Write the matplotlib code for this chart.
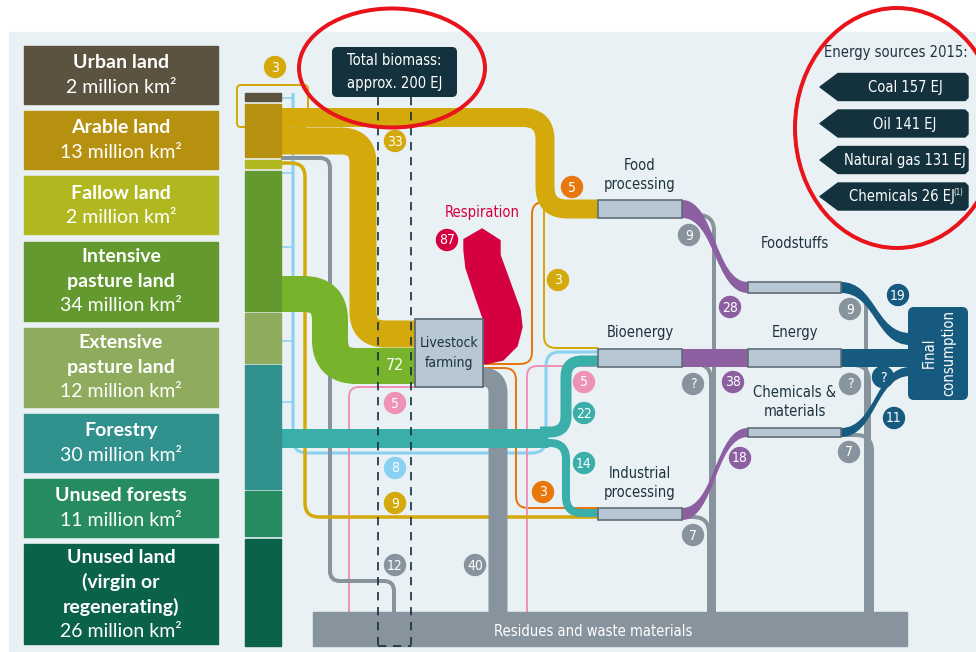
import numpy as np
import matplotlib
matplotlib.use('Agg')
import matplotlib.pyplot as plt
from matplotlib.font_manager import FontProperties, findfont, fontManager
from matplotlib.path import Path
from matplotlib.patches import PathPatch, Rectangle, FancyBboxPatch, Circle, Ellipse, Polygon

names = {f.name for f in fontManager.ttflist}
cond_file = findfont(FontProperties(family='DejaVu Sans', stretch='condensed'))
if 'Condensed' in cond_file:
    NK = dict(family='DejaVu Sans', fontstretch='condensed')
elif 'Liberation Sans' in names:
    NK = dict(family='Liberation Sans')
else:
    NK = dict(family='DejaVu Sans')
WIDE = 'Lato' if 'Lato' in names else 'DejaVu Sans'

# --- data -------------------------------------------------------------
land_names = ['Urban land', 'Arable land', 'Fallow land', 'Intensive\npasture land',
              'Extensive\npasture land', 'Forestry', 'Unused forests',
              'Unused land\n(virgin or\nregenerating)']
land_area = [2, 13, 2, 34, 12, 30, 11, 26]  # million km²
land_colors = ['#5b5340', '#b6910f', '#b1b81f', '#64992f', '#8fab5e', '#30918d', '#268c60', '#0b624b']

energy_sources = ['Coal', 'Oil', 'Natural gas', 'Chemicals']
energy_ej = [157, 141, 131, 26]

# flow values (EJ) as printed in the circles
flow_values = ['3', '33', '5', '8', '9', '12', '87', '40', '5', '3', '3', '5', '22', '14',
               '9', '?', '7', '28', '38', '18', '9', '?', '7', '19', '?', '11']
flow_kinds = ['y', 'y', 'p', 'l', 'y', 'g', 'r', 'g', 'o', 'y', 'o', 'p', 't', 't',
              'g', 'g', 'g', 'v', 'v', 'v', 'g', 'g', 'g', 'b', 'b', 'b']
livestock_in = 72
total_biomass = 200

stage_names = ['Food\nprocessing', 'Bioenergy', 'Industrial\nprocessing']
product_names = ['Foodstuffs', 'Energy', 'Chemicals &\nmaterials']

# --- colours ----------------------------------------------------------
BG = '#e9f1f4'
DARK = '#14323e'
TXT = '#1d3340'
YELLOW = '#d4a90b'
ORANGE = '#e8780e'
PINK = '#ef93b6'
LBLUE = '#88d1f1'
GRAY = '#87939d'
TEAL = '#3aaea9'
PURPLE = '#8c5fa1'
BLUE = '#175a80'
RED = '#d5003f'
GREEN = '#78b42b'
BOXF = '#b7c7d3'
BOXE = '#5f6d78'
kind_color = {'y': YELLOW, 'p': PINK, 'l': LBLUE, 'g': GRAY, 'r': RED, 'o': ORANGE,
              't': TEAL, 'v': PURPLE, 'b': BLUE}

PX = 0.72  # pixel -> points

fig = plt.figure(figsize=(9.76, 6.52), dpi=100)
fig.patch.set_facecolor('white')
ax = fig.add_axes([0, 0, 1, 1])
ax.set_xlim(0, 976)
ax.set_ylim(652, 0)
ax.axis('off')

ax.add_patch(Rectangle((9, 32), 967, 620, color=BG, zorder=0))


def rounded_path(pts, r):
    verts = [pts[0]]
    codes = [Path.MOVETO]
    n = len(pts)
    for i in range(1, n - 1):
        p0, p1, p2 = np.array(pts[i - 1], float), np.array(pts[i], float), np.array(pts[i + 1], float)
        d1 = p1 - p0
        d2 = p2 - p1
        l1 = np.hypot(*d1)
        l2 = np.hypot(*d2)
        rr = min(r, l1 if i == 1 else l1 / 2, l2 if i == n - 2 else l2 / 2)
        a = p1 - d1 / l1 * rr
        b = p1 + d2 / l2 * rr
        verts += [tuple(a), tuple(p1), tuple(b)]
        codes += [Path.LINETO, Path.CURVE3, Path.CURVE3]
    verts.append(pts[-1])
    codes.append(Path.LINETO)
    return Path(verts, codes)


def flow(pts, width, color, r=12, z=2):
    ax.add_patch(PathPatch(rounded_path(pts, r), fill=False, edgecolor=color,
                           lw=width * PX, capstyle='butt', joinstyle='round', zorder=z))


def ribbon(x0, a0, b0, x1, a1, b1, color, z=2):
    xm = (x0 + x1) / 2
    verts = [(x0, a0), (xm, a0), (xm, a1), (x1, a1), (x1, b1), (xm, b1), (xm, b0), (x0, b0), (x0, a0)]
    codes = [Path.MOVETO, Path.CURVE4, Path.CURVE4, Path.CURVE4, Path.LINETO,
             Path.CURVE4, Path.CURVE4, Path.CURVE4, Path.CLOSEPOLY]
    ax.add_patch(PathPatch(Path(verts, codes), facecolor=color, edgecolor='none', zorder=z))


def label(x, y, s, color, size=10):
    ax.add_patch(Circle((x, y), 10.5, color=color, zorder=6))
    ax.text(x, y + 0.5, s, color='white', fontsize=size, ha='center', va='center',
            zorder=7, **NK)


# --- left land boxes --------------------------------------------------
y = 46
for name, area, col in zip(land_names, land_area, land_colors):
    lines = name.split('\n') + [f'{area} million km²']
    h = 58 if len(lines) == 2 else (79 if len(lines) == 3 else 100)
    ax.add_patch(Rectangle((24, y), 194, h, color=col, zorder=1))
    cy = y + h / 2
    for k, ln in enumerate(lines):
        ly = cy + (k - (len(lines) - 1) / 2) * 24.5
        ax.text(121, ly, ln, color='white', fontsize=14, family=WIDE,
                fontweight='bold' if k < len(lines) - 1 else 'normal',
                ha='center', va='center', zorder=2)
    y += h + 7.2

# urban outline (3 EJ)
ax.add_patch(FancyBboxPatch((237, 85), 71, 42, boxstyle='round,pad=0,rounding_size=4',
                            fill=False, edgecolor=YELLOW, lw=2 * PX, zorder=1))

# --- thin flows --------------------------------------------------------
flow([(293, 93), (293, 453), (546, 453), (546, 352), (598, 352)], 3, LBLUE, r=14)
for ty in [98, 173, 247, 341, 402]:
    ax.plot([281, 293], [ty, ty], color=LBLUE, lw=1.5 * PX, zorder=2)
flow([(544, 205), (544, 348), (598, 348)], 2, YELLOW, r=12)
flow([(470, 364), (532, 364), (532, 202), (598, 202)], 2, ORANGE, r=12)
flow([(470, 368), (516, 368), (516, 508), (598, 508)], 2, ORANGE, r=12)
flow([(415, 387), (349, 387), (349, 612)], 2, PINK, r=10)
flow([(527, 612), (527, 366), (598, 366)], 2, PINK, r=10)
flow([(281, 158), (330, 158), (330, 581), (394, 581), (394, 612)], 4, GRAY, r=10)
flow([(281, 163), (305, 163), (305, 517), (598, 517)], 3.5, YELLOW, r=14)

# gray residue lines from processing / products
flow([(682, 215), (714, 215), (714, 612)], 4, GRAY, r=16)
flow([(682, 364), (711, 364), (711, 612)], 4, GRAY, r=16)
flow([(682, 517), (709, 517), (709, 612)], 4, GRAY, r=16)
flow([(841, 291), (866, 291), (866, 612)], 4, GRAY, r=16)
flow([(841, 365), (869, 365), (869, 612)], 4, GRAY, r=16)
flow([(841, 435), (872, 435), (872, 612)], 4, GRAY, r=16)

# --- thick flows -------------------------------------------------------
flow([(281, 117.5), (545, 117.5), (545, 209), (598, 209)], 19, YELLOW, r=22, z=3)
flow([(281, 141), (363, 141), (363, 334), (420, 334)], 27, YELLOW, r=22, z=3)
flow([(281, 294), (330, 294), (330, 366), (420, 366)], 36, GREEN, r=26, z=3)
flow([(470, 377), (498, 377), (498, 612)], 19, GRAY, r=16, z=2)
flow([(281, 437.5), (548, 437.5)], 19, TEAL, z=3)
flow([(540, 432), (566, 432), (566, 361), (598, 361)], 11, TEAL, r=16, z=3)
flow([(540, 443), (566, 443), (566, 513), (598, 513)], 8, TEAL, r=16, z=3)

# respiration arrow
resp = [(482, 229), (500, 240.5), (500, 255), (520, 310), (522, 327), (517, 346), (503, 360),
        (487, 363.5), (483, 363.5), (483, 318), (476, 298), (466, 268), (464, 250), (464, 239.5)]
ax.add_patch(Polygon(resp, closed=True, color=RED, zorder=3))

# purple and blue ribbons
ribbon(682, 200, 218, 748, 282, 293, PURPLE)
ribbon(682, 349, 367, 748, 349, 367, PURPLE)
ribbon(682, 508, 520, 748, 428, 437, PURPLE)
ribbon(841, 282, 293, 910, 333, 345, BLUE)
ribbon(841, 349, 367, 910, 349, 367, BLUE)
ribbon(841, 428, 437, 910, 367, 376, BLUE)

# --- stacked land column ---------------------------------------------
top, bottom, gap = 93, 646, 2.5
scale = (bottom - top - gap * (len(land_area) - 1)) / sum(land_area)
y = top
for area, col in zip(land_area, land_colors):
    ax.add_patch(Rectangle((245, y), 36, area * scale, color=col, zorder=4))
    y += area * scale + gap

# --- boxes -------------------------------------------------------------
ax.add_patch(Rectangle((415, 319), 68, 68, facecolor=BOXF, edgecolor=BOXE, lw=1.3, zorder=5))
ax.text(449, 353, 'Livestock\nfarming', fontsize=10, color=TXT,
        ha='center', va='center', linespacing=1.5, zorder=6, **NK)

stage_y = [(200, 218), (349, 367), (508, 520)]
stage_text_y = [175, 333, 483]
for (a, b), nm, ty in zip(stage_y, stage_names, stage_text_y):
    ax.add_patch(Rectangle((598, a), 84, b - a, facecolor=BOXF, edgecolor=BOXE, lw=1.2, zorder=5))
    ax.text(640, ty, nm, fontsize=10.5, color=TXT, ha='center', va='center',
            linespacing=1.4, zorder=6, **NK)

prod_y = [(282, 293), (349, 367), (428, 437)]
prod_text_y = [244, 333, 402]
for (a, b), nm, ty in zip(prod_y, product_names, prod_text_y):
    ax.add_patch(Rectangle((748, a), 93, b - a, facecolor=BOXF, edgecolor=BOXE, lw=1.2, zorder=5))
    ax.text(795, ty, nm, fontsize=10.5, color=TXT, ha='center', va='center',
            linespacing=1.4, zorder=6, **NK)

ax.add_patch(FancyBboxPatch((908, 307), 60, 93, boxstyle='round,pad=0,rounding_size=6',
                            facecolor=BLUE, edgecolor='none', zorder=5))
ax.text(939, 353, 'Final\nconsumption', rotation=90, fontsize=10.5,
        color='white', ha='center', va='center', linespacing=1.35, zorder=6, **NK)

# residues bar
ax.add_patch(Rectangle((313, 612), 594, 34, color=GRAY, zorder=5))
ax.text(593, 631, 'Residues and waste materials', fontsize=10.5,
        color='white', ha='center', va='center', zorder=6, **NK)

# respiration label
ax.text(482, 213, 'Respiration', fontsize=10.5, color=RED,
        ha='center', va='center', zorder=6, **NK)
ax.text(395, 366, str(livestock_in), fontsize=11.5, color='white',
        ha='center', va='center', zorder=7, **NK)

# dashed total biomass column
for dx in (378, 411):
    ax.plot([dx, dx], [97, 646], color=DARK, lw=1.2, ls=(0, (5, 4)), zorder=6)
ax.plot([378, 411], [646, 646], color=DARK, lw=1.2, ls=(0, (5, 4)), zorder=6)
ax.add_patch(FancyBboxPatch((332, 47), 125, 50, boxstyle='round,pad=0,rounding_size=5',
                            facecolor=DARK, edgecolor='none', zorder=7))
ax.text(394.5, 72, f'Total biomass:\napprox. {total_biomass} EJ', fontsize=10.5,
        color='white', ha='center', va='center', linespacing=1.6, zorder=8, **NK)

# --- value circles -----------------------------------------------------
label_pos = [(275, 67), (395, 141), (395, 403), (395, 468), (395, 503), (395, 565),
             (447, 240), (475, 565), (572, 187), (558, 280), (543, 492), (584, 382),
             (584, 413), (584, 463), (689, 235), (693, 384), (693, 535), (730, 307),
             (733, 382), (740, 458), (850, 309), (850, 384), (849, 452), (898, 295),
             (883, 377), (894, 418)]
for (lx, ly), v, k in zip(label_pos, flow_values, flow_kinds):
    label(lx, ly, v, kind_color[k])

# --- energy sources ----------------------------------------------------
ax.text(968, 53, 'Energy sources 2015:', fontsize=10.5, color=TXT,
        ha='right', va='center', zorder=6, **NK)
for i, (src, ej) in enumerate(zip(energy_sources, energy_ej)):
    yc = 87 + i * 36.5
    tag = [(820, yc), (838, yc - 13.5), (965, yc - 13.5), (968, yc - 10.5),
           (968, yc + 10.5), (965, yc + 13.5), (838, yc + 13.5)]
    ax.add_patch(Polygon(tag, closed=True, facecolor=DARK, edgecolor=DARK, lw=1,
                         joinstyle='round', zorder=5))
    if src == 'Chemicals':
        ax.text(902, yc + 0.5, f'{src} {ej} EJ', fontsize=10.5, color='white',
                ha='center', va='center', zorder=6, **NK)
        ax.text(958, yc - 4, '(1)', fontsize=5.5, color='white',
                ha='center', va='center', zorder=6, **NK)
    else:
        ax.text(905, yc + 0.5, f'{src} {ej} EJ', fontsize=10.5, color='white',
                ha='center', va='center', zorder=6, **NK)

# --- red annotation rings ---------------------------------------------
ax.add_patch(Ellipse((392, 68), 186, 119, fill=False, edgecolor='#e8131b', lw=4 * PX, zorder=9))
ax.add_patch(Ellipse((897, 128), 204, 240, fill=False, edgecolor='#e8131b', lw=4 * PX, zorder=9))

fig.savefig('out.png', dpi=100, facecolor=fig.get_facecolor())
